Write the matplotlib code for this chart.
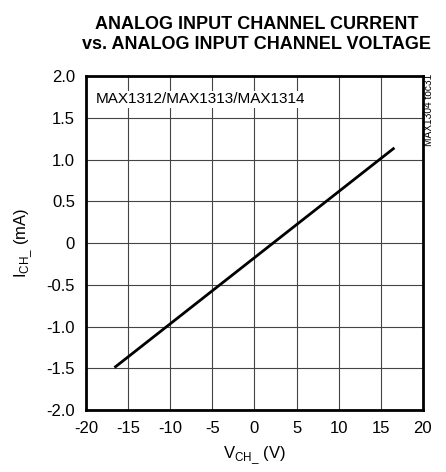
import matplotlib.pyplot as plt

plt.rcParams['font.family'] = ['Liberation Sans', 'DejaVu Sans']

# data
v_ch = [-16.5, 16.5]
i_ch = [-1.48, 1.13]
x_ticks = [-20, -15, -10, -5, 0, 5, 10, 15, 20]
y_ticks = [-2.0, -1.5, -1.0, -0.5, 0, 0.5, 1.0, 1.5, 2.0]
y_labels = ['-2.0', '-1.5', '-1.0', '-0.5', '0', '0.5', '1.0', '1.5', '2.0']

fig = plt.figure(figsize=(4.46, 4.72), dpi=100)
ax = fig.add_axes([0.193, 0.131, 0.755, 0.708])

ax.plot(v_ch, i_ch, color='black', linewidth=2)

ax.set_xlim(-20, 20)
ax.set_ylim(-2, 2)
ax.set_xticks(x_ticks)
ax.set_xticklabels([str(t) for t in x_ticks])
ax.set_yticks(y_ticks)
ax.set_yticklabels(y_labels)
ax.tick_params(length=0, labelsize=12, pad=8)
ax.grid(True, color='#444444', linewidth=0.8)
for s in ax.spines.values():
    s.set_linewidth(2)

ax.set_xlabel('V$_{\\mathregular{CH\\_}}$ (V)', fontsize=12, labelpad=6)
ax.set_ylabel('I$_{\\mathregular{CH\\_}}$ (mA)', fontsize=12, labelpad=8)

ax.text(-18.8, 1.72, 'MAX1312/MAX1313/MAX1314', fontsize=11, va='center', ha='left',
        bbox=dict(facecolor='white', edgecolor='none', pad=1))

fig.text(0.962, 0.767, 'MAX1304 toc31', rotation=90, fontsize=7.3, ha='center', va='center')

fig.text(0.575, 0.927, 'ANALOG INPUT CHANNEL CURRENT\nvs. ANALOG INPUT CHANNEL VOLTAGE',
         ha='center', va='center', fontsize=13, fontweight='bold', linespacing=1.2)

fig.savefig('out.png')
